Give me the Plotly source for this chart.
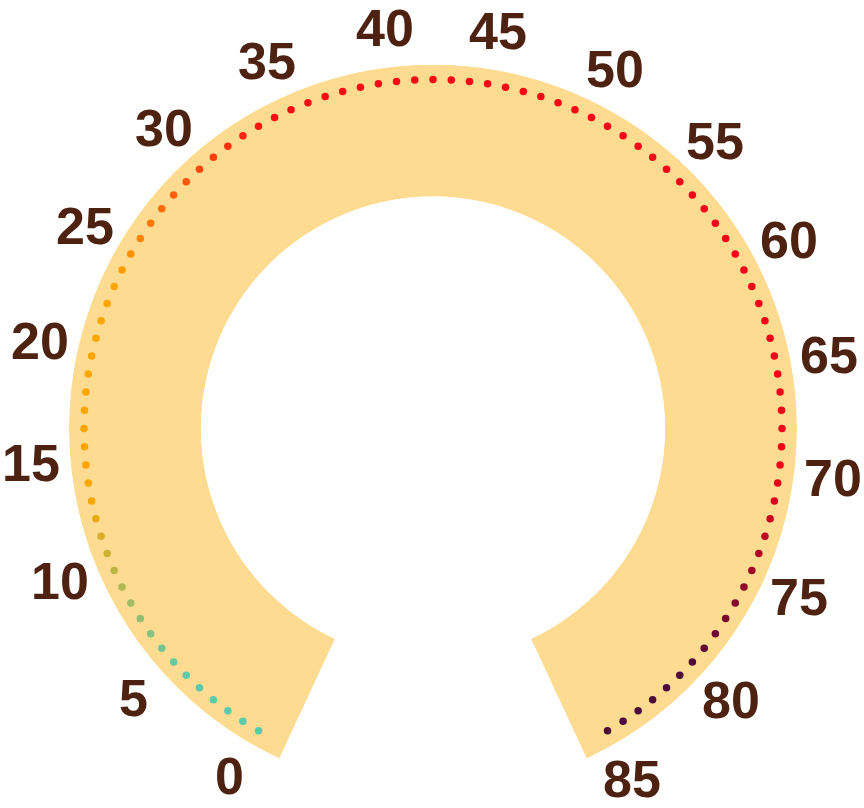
import numpy as np
import plotly.graph_objects as go

# ---- data ----
axis_min = 0
axis_max = 85
tick_values = [0, 5, 10, 15, 20, 25, 30, 35, 40, 45, 50, 55, 60, 65, 70, 75, 80, 85]
tick_labels = [str(v) for v in tick_values]
dot_count = 101  # dotted scale marks from axis_min to axis_max
dot_values = list(np.linspace(axis_min, axis_max, dot_count))

# colour stops along the scale (value -> colour)
color_stop_values = [0, 4.5, 14, 24, 35, 70, 80, 85]
color_stop_colors = ["#5CCBAA", "#5CCBAA", "#FFA500", "#FFA500",
                     "#FF0A14", "#F2001A", "#4E0A3A", "#4A0A3A"]

# ---- geometry / style ----
W, H = 864, 808
cx, cy = 433, 428.5
R_out, R_in = 364, 232
start_deg, end_deg = -150, 150      # angle (clockwise from top) of axis_min / axis_max
arc_half_span = 155                 # background band half span
dot_radius_px = 349
label_radius_px = 403
# small angular nudge of each tick label (degrees, clockwise) as in the original layout
label_nudge_deg = [0.3, 0.3, 2.4, 2.2, 2.0, 2.0, 2.3, 2.1, 2.0,
                   0.4, 0.4, 0.3, 0.3, 0.1, 0.0, 0.0, 0.0, 0.4]

def to_r(px):
    return (px - R_in) / (R_out - R_in)

def to_theta(v):
    v = np.asarray(v, dtype=float)
    return start_deg + (v - axis_min) / (axis_max - axis_min) * (end_deg - start_deg)

colorscale = [[(v - axis_min) / (axis_max - axis_min), c]
              for v, c in zip(color_stop_values, color_stop_colors)]

fig = go.Figure()

fig.add_trace(go.Barpolar(
    r=[1], base=[0], theta=[0], width=[2 * arc_half_span],
    marker=dict(color="#FDDC92", line=dict(width=0)),
    hoverinfo="skip",
))

fig.add_trace(go.Scatterpolar(
    r=[to_r(dot_radius_px)] * len(dot_values),
    theta=to_theta(dot_values),
    mode="markers",
    marker=dict(size=7.5, color=dot_values, colorscale=colorscale,
                cmin=axis_min, cmax=axis_max, line=dict(width=0)),
    hoverinfo="skip",
))

# tick labels placed around the band from the same angular scale
annotations = []
for v, lab, nd in zip(tick_values, tick_labels, label_nudge_deg):
    th = np.deg2rad(to_theta(v) + nd)
    px = cx + label_radius_px * np.sin(th)
    py = cy - label_radius_px * np.cos(th)
    annotations.append(dict(
        x=px / W, y=(H - py) / H, xref="paper", yref="paper",
        text=lab, showarrow=False, xanchor="center", yanchor="middle",
        font=dict(family="Liberation Sans, Arial, sans-serif", size=52,
                  color="#4E2210", weight="bold"),
    ))

fig.update_layout(
    width=W, height=H,
    margin=dict(l=0, r=0, t=0, b=0),
    paper_bgcolor="white",
    plot_bgcolor="white",
    showlegend=False,
    annotations=annotations,
    polar=dict(
        domain=dict(x=[(cx - R_out) / W, (cx + R_out) / W],
                    y=[(H - (cy + R_out)) / H, (H - (cy - R_out)) / H]),
        hole=R_in / R_out,
        bgcolor="rgba(0,0,0,0)",
        angularaxis=dict(visible=False, rotation=90, direction="clockwise"),
        radialaxis=dict(visible=False, range=[0, 1]),
    ),
)

fig.write_html("out.html")
